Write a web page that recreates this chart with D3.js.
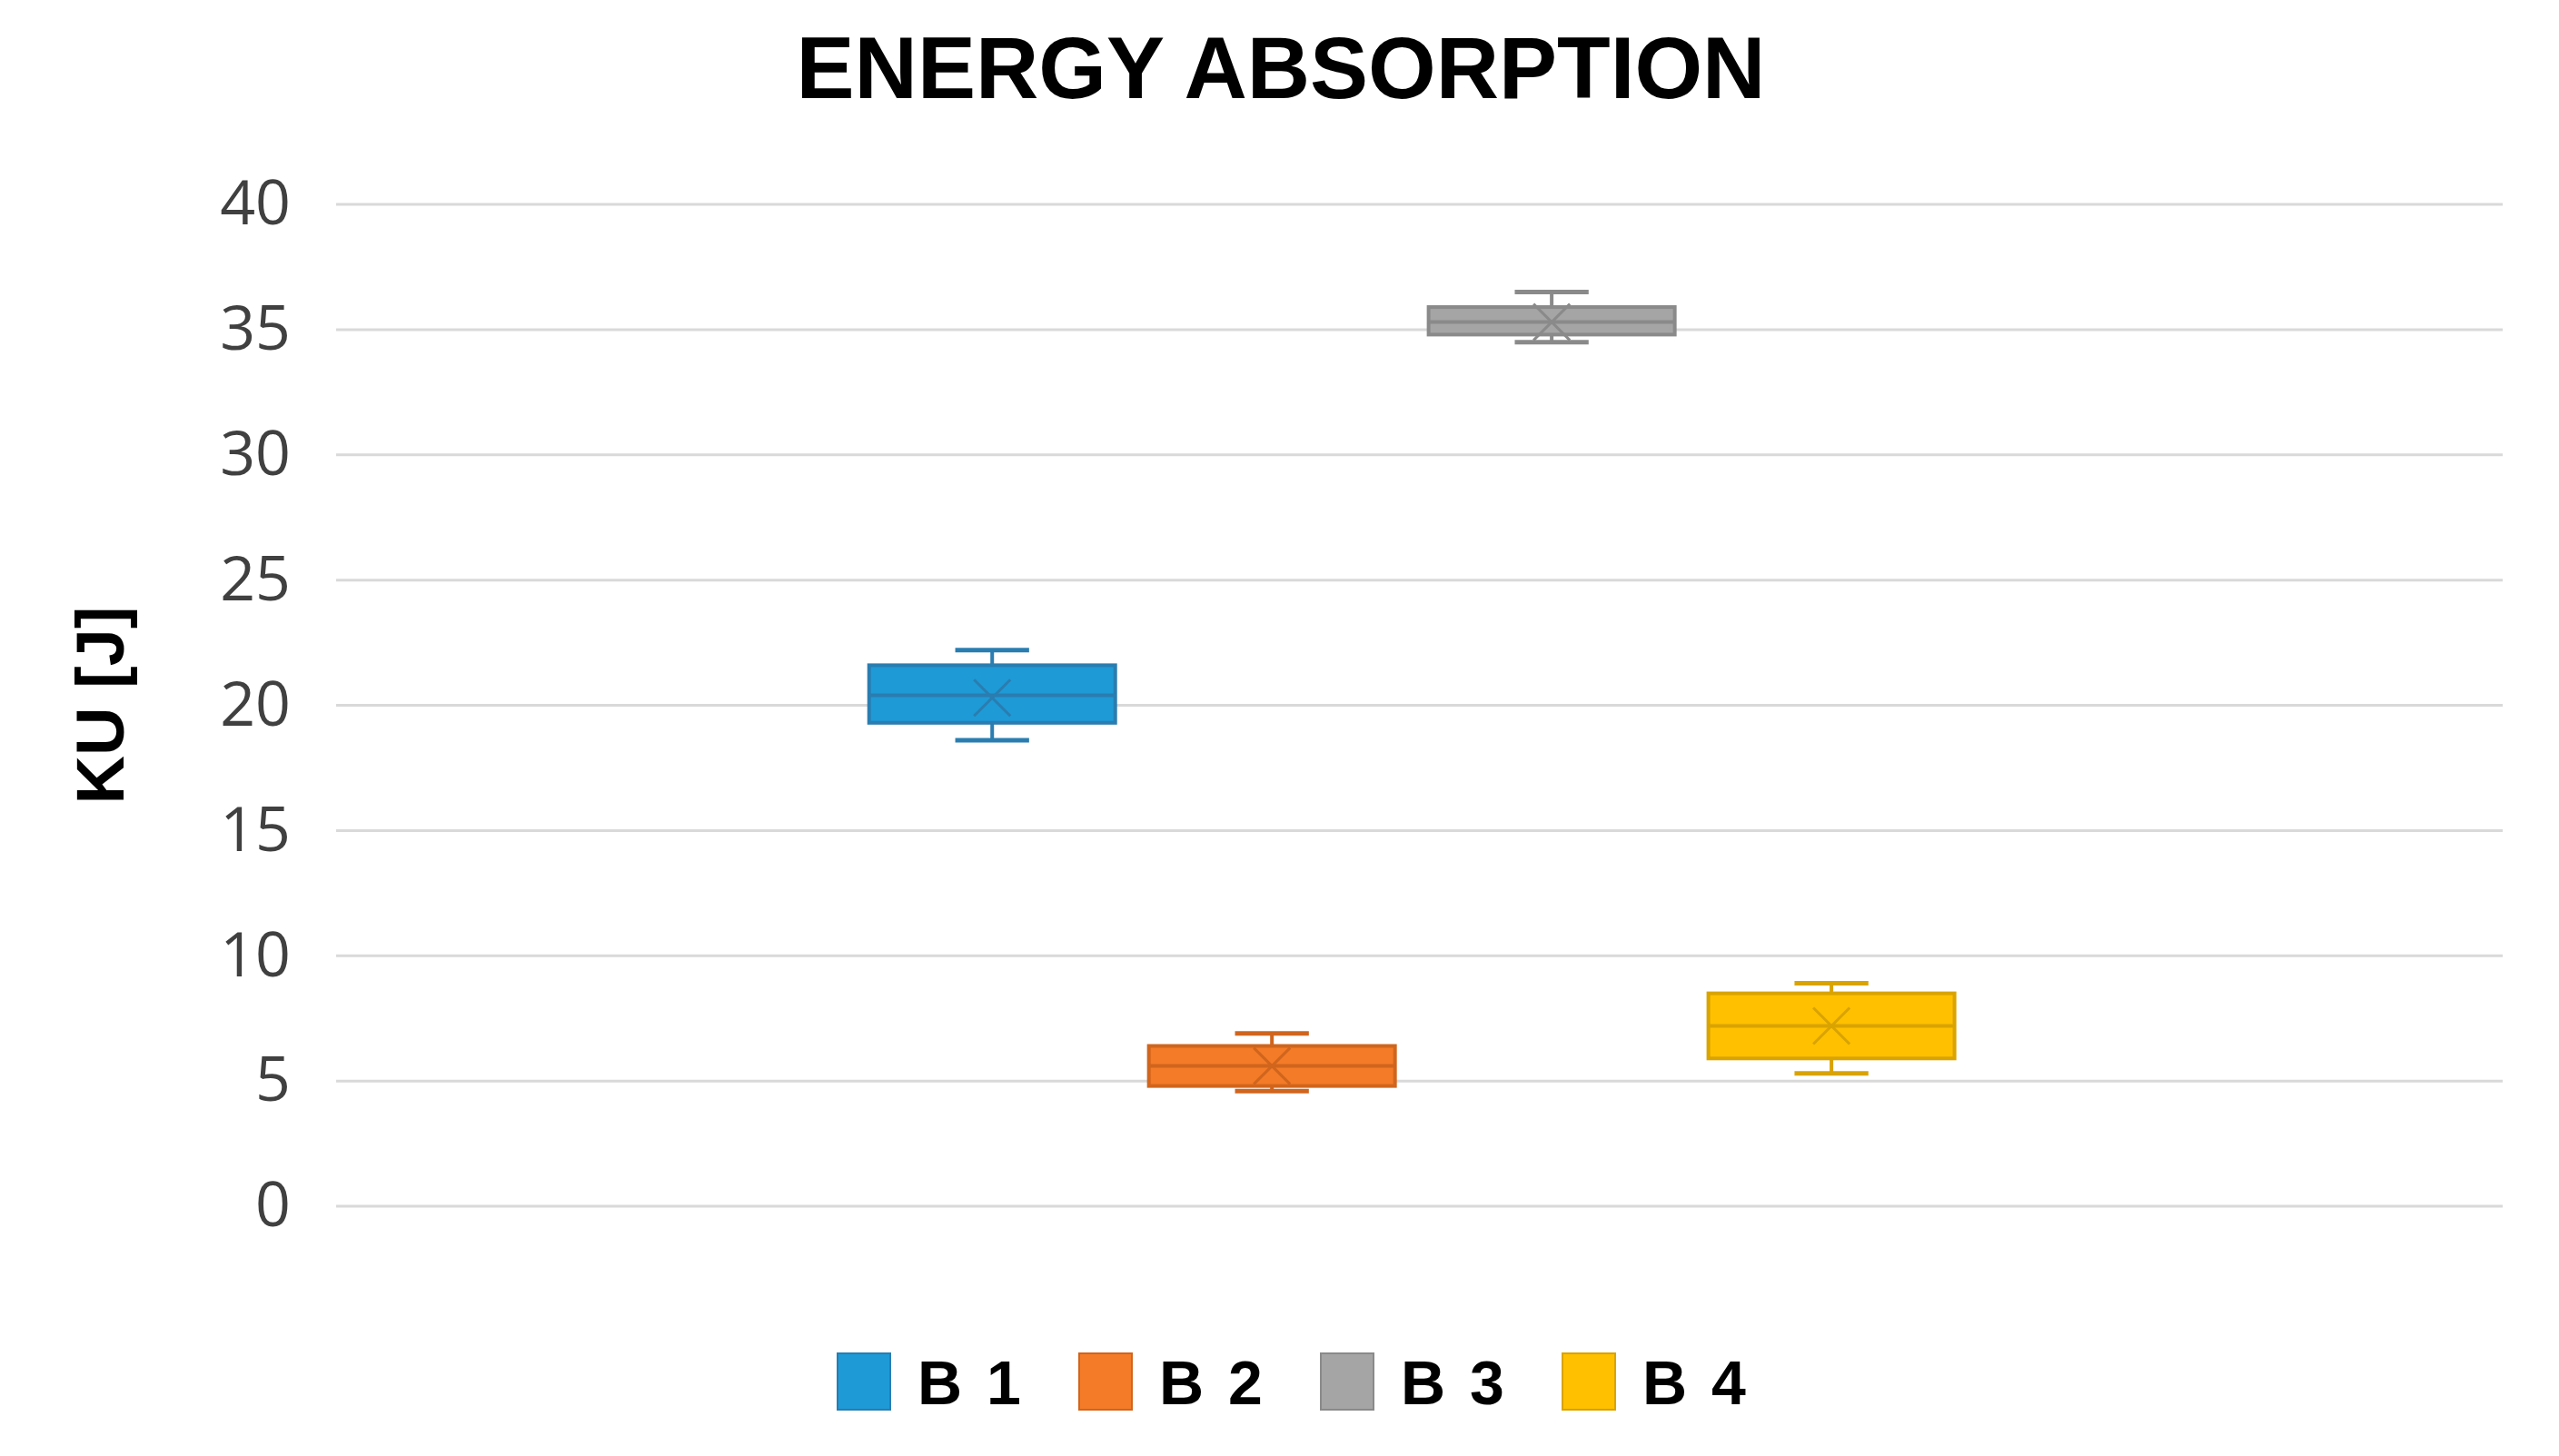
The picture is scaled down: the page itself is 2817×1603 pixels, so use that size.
<!DOCTYPE html>
<html>
<head>
<meta charset="utf-8">
<script src="https://cdn.jsdelivr.net/npm/d3@7"></script>
<style>
  body { margin: 0; background: #fff; }
</style>
</head>
<body>
<script>
// Data
const series = ["B 1", "B 2", "B 3", "B 4"];
const whiskerLow = [18.6, 4.6, 34.5, 5.3];
const q1 = [19.3, 4.8, 34.8, 5.9];
const median = [20.4, 5.6, 35.3, 7.2];
const q3 = [21.6, 6.4, 35.9, 8.5];
const whiskerHigh = [22.2, 6.9, 36.5, 8.9];
const means = [20.3, 5.6, 35.3, 7.2];
const yTicks = [0, 5, 10, 15, 20, 25, 30, 35, 40];

const fills = ["#1e9ad6", "#f47b27", "#a5a5a5", "#ffc000"];
const strokes = ["#2a7db0", "#d0651d", "#8a8a8a", "#d9a300"];

const W = 2817, H = 1603;
const margin = { top: 225, right: 40, bottom: 266, left: 370 };
margin.right = 40 + 22; margin.bottom = 266 + 9;
const width = W - margin.left - margin.right;
const height = H - margin.top - margin.bottom;

const svg = d3.select("body").append("svg")
  .attr("width", W).attr("height", H)
  .style("font-family", "Arial, 'Liberation Sans', sans-serif");

const g = svg.append("g").attr("transform", `translate(${margin.left},${margin.top})`);

const y = d3.scaleLinear().domain([0, 40]).range([height, 0]);
const x = d3.scaleBand().domain(series).range([width * 0.246, width * 0.747]).paddingInner(0.12);

// Gridlines
g.selectAll(".grid").data(yTicks).enter().append("line")
  .attr("x1", 0).attr("x2", width)
  .attr("y1", d => y(d)).attr("y2", d => y(d))
  .attr("stroke", "#d9d9d9").attr("stroke-width", 3);

// Y axis labels
const yAxis = g.append("g").call(d3.axisLeft(y).tickValues(yTicks).tickSize(0).tickPadding(50));
yAxis.select(".domain").remove();
yAxis.selectAll("text").attr("font-size", 68).attr("fill", "#404040")
  .style("font-family", "'Open Sans', 'DejaVu Sans', sans-serif");

// Boxes
const idx = d3.range(series.length);
const bw = x.bandwidth();
const box = g.selectAll(".box").data(idx).enter().append("g");

box.append("line")
  .attr("x1", i => x(series[i]) + bw / 2).attr("x2", i => x(series[i]) + bw / 2)
  .attr("y1", i => y(whiskerLow[i])).attr("y2", i => y(whiskerHigh[i]))
  .attr("stroke", i => strokes[i]).attr("stroke-width", 4);
[whiskerLow, whiskerHigh].forEach(arr => {
  box.append("line")
    .attr("x1", i => x(series[i]) + bw / 2 - bw * 0.15).attr("x2", i => x(series[i]) + bw / 2 + bw * 0.15)
    .attr("y1", i => y(arr[i])).attr("y2", i => y(arr[i]))
    .attr("stroke", i => strokes[i]).attr("stroke-width", 5);
});
box.append("rect")
  .attr("x", i => x(series[i])).attr("width", bw)
  .attr("y", i => y(q3[i])).attr("height", i => y(q1[i]) - y(q3[i]))
  .attr("fill", i => fills[i]).attr("stroke", i => strokes[i]).attr("stroke-width", 4);
box.append("line")
  .attr("x1", i => x(series[i])).attr("x2", i => x(series[i]) + bw)
  .attr("y1", i => y(median[i])).attr("y2", i => y(median[i]))
  .attr("stroke", i => strokes[i]).attr("stroke-width", 4);
// mean markers
const m = 20;
box.append("path")
  .attr("d", i => {
    const cx = x(series[i]) + bw / 2, cy = y(means[i]);
    return `M${cx - m},${cy - m}L${cx + m},${cy + m}M${cx - m},${cy + m}L${cx + m},${cy - m}`;
  })
  .attr("stroke", i => strokes[i]).attr("stroke-width", 3).attr("fill", "none");

// Title
svg.append("text").attr("x", 1410).attr("y", 108).attr("text-anchor", "middle")
  .attr("font-size", 96).attr("font-weight", "bold").attr("fill", "#000")
  .text("ENERGY ABSORPTION");

// Y axis title
svg.append("text")
  .attr("transform", `translate(136,${margin.top + y(20)}) rotate(-90)`)
  .attr("text-anchor", "middle").attr("font-size", 74).attr("font-weight", "bold")
  .text("KU [J]");

// Legend
const legendX = [922, 1188, 1454, 1720];
const legend = svg.selectAll(".legend").data(idx).enter().append("g")
  .attr("transform", i => `translate(${legendX[i]},1490)`);
legend.append("rect").attr("width", 58).attr("height", 62)
  .attr("fill", i => fills[i]).attr("stroke", i => strokes[i]).attr("stroke-width", 2);
legend.append("text").attr("x", 88).attr("y", 56)
  .attr("font-size", 68).attr("font-weight", "bold").attr("letter-spacing", 4)
  .text(i => series[i]);
</script>
</body>
</html>
